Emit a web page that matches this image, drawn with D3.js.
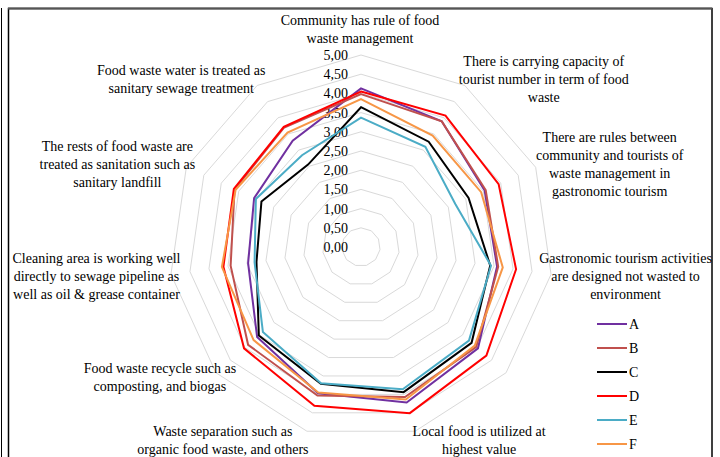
<!DOCTYPE html>
<html>
<head>
<meta charset="utf-8">
<script src="https://cdn.jsdelivr.net/npm/d3@7"></script>
<style>
  html, body { margin: 0; padding: 0; background: #fff; }
  svg { display: block; }
  text { font-family: "Liberation Serif", "Times New Roman", serif; fill: #000; }
</style>
</head>
<body>
<svg id="chart" width="720" height="457"></svg>
<script>
// Assessment criteria (one spoke each); "\n" marks a line break in the label
const categories = [
  "Community has rule of food\nwaste management",
  "There is carrying capacity of\ntourist number in term of food\nwaste",
  "There are rules between\ncommunity and tourists of\nwaste management in\ngastronomic tourism",
  "Gastronomic tourism activities\nare designed not wasted to\nenvironment",
  "",
  "Local food is utilized at\nhighest value",
  "Waste separation such as\norganic food waste, and others",
  "Food waste recycle such as\ncomposting, and biogas",
  "Cleaning area is working well\ndirectly to sewage pipeline as\nwell as oil & grease container",
  "The rests of food waste are\ntreated as sanitation such as\nsanitary landfill",
  "Food waste water is treated as\nsanitary sewage treatment"
];

const seriesNames = ["A", "B", "C", "D", "E", "F"];

const valuesA = [4.13, 3.89, 3.54, 3.58, 4.03, 4.22, 3.97, 3.58, 2.97, 3.06, 3.29];
const valuesB = [3.98, 3.89, 3.57, 3.61, 3.97, 4.07, 4.03, 3.89, 3.43, 3.62, 3.70];
const valuesC = [3.64, 3.26, 3.08, 3.40, 3.81, 3.94, 3.71, 3.52, 2.75, 2.85, 2.55];
const valuesD = [4.05, 4.07, 3.94, 4.08, 4.32, 4.51, 4.31, 4.03, 3.62, 3.64, 3.72];
const valuesE = [3.37, 3.10, 2.70, 3.42, 3.72, 3.86, 3.70, 3.38, 2.80, 3.01, 2.84];
const valuesF = [3.85, 3.45, 3.44, 3.73, 3.92, 4.14, 3.95, 3.70, 3.66, 3.59, 3.54];

const tickValues = [0, 0.5, 1, 1.5, 2, 2.5, 3, 3.5, 4, 4.5, 5];

// ---- layout / style ----
const colors = ["#7030A0", "#C0504D", "#000000", "#FF0000", "#4BACC6", "#F79646"];
const cx = 361, cy = 247, outerR = 192;
const fontSize = 14, lineH = 18;
// label block centre relative to each spoke's outer vertex
const labelOffsets = [
  [-1, -26], [79, -6.5], [74, -3], [74.5, 2], [0, 0], [64, 9],
  [-84, 9], [-56, 4], [-74.5, 2], [-69, -3], [-76, -6.5]
];

const svg = d3.select("#chart");

// chart frame
svg.append("rect")
  .attr("x", 8.5).attr("y", 8.5).attr("width", 703.5).attr("height", 460)
  .attr("fill", "#fff").attr("stroke", "#000").attr("stroke-width", 1.5);
svg.append("line")
  .attr("x1", 8).attr("x2", 712).attr("y1", 8.5).attr("y2", 8.5)
  .attr("stroke", "#555").attr("stroke-width", 2);
svg.append("line")
  .attr("x1", 1.5).attr("x2", 1.5).attr("y1", 8).attr("y2", 457)
  .attr("stroke", "#000").attr("stroke-width", 1);

const n = categories.length;
const angle = d3.scaleLinear().domain([0, n]).range([0, 2 * Math.PI]);
const r = d3.scaleLinear().domain([0, 5]).range([0, outerR]);

const g = svg.append("g").attr("transform", `translate(${cx},${cy})`);

const radial = d3.lineRadial()
  .angle((d, i) => angle(i))
  .radius(d => r(d))
  .curve(d3.curveLinearClosed);

// grid rings
g.append("g").selectAll("path")
  .data(tickValues.filter(v => v > 0))
  .join("path")
  .attr("d", v => radial(d3.range(n).map(() => v)))
  .attr("fill", "none")
  .attr("stroke", "#D9D9D9")
  .attr("stroke-width", 1);

// value axis labels
const locale = d3.formatLocale({ decimal: ",", thousands: ".", grouping: [3], currency: ["", ""] });
const fmt = locale.format(".2f");
const yAxisScale = d3.scaleLinear().domain([0, 5]).range([0, -outerR]);
const yAxis = g.append("g")
  .call(d3.axisLeft(yAxisScale).tickValues(tickValues).tickFormat(fmt).tickSize(0).tickPadding(13));
yAxis.select(".domain").remove();
yAxis.selectAll("text")
  .attr("font-family", "Liberation Serif, Times New Roman, serif")
  .attr("font-size", fontSize)
  .attr("fill", "#000");

// series polygons
const allSeries = [valuesA, valuesB, valuesC, valuesD, valuesE, valuesF];
g.append("g").selectAll("path")
  .data(allSeries)
  .join("path")
  .attr("d", d => radial(d))
  .attr("fill", "none")
  .attr("stroke", (d, i) => colors[i])
  .attr("stroke-width", 2)
  .attr("stroke-linejoin", "miter");

// category labels
const labels = g.append("g");
categories.forEach((c, i) => {
  if (!c) return;
  const a = angle(i);
  const vx = r(5) * Math.sin(a), vy = -r(5) * Math.cos(a);
  const [ox, oy] = labelOffsets[i];
  const lines = c.split("\n");
  const t = labels.append("text")
    .attr("text-anchor", "middle")
    .attr("font-size", fontSize)
    .attr("x", vx + ox)
    .attr("y", vy + oy - (lines.length - 1) * lineH / 2);
  lines.forEach((ln, k) => {
    t.append("tspan")
      .attr("x", vx + ox)
      .attr("dy", k === 0 ? "0.35em" : lineH)
      .text(ln);
  });
});

// legend
const legend = svg.append("g").attr("transform", "translate(597,324)");
seriesNames.forEach((s, i) => {
  const row = legend.append("g").attr("transform", `translate(0,${i * 24})`);
  row.append("line").attr("x1", 0).attr("x2", 30).attr("y1", 0).attr("y2", 0)
    .attr("stroke", colors[i]).attr("stroke-width", 2);
  row.append("text").attr("x", 32).attr("y", 0).attr("dy", "0.35em")
    .attr("font-size", fontSize).text(s);
});
</script>
</body>
</html>
